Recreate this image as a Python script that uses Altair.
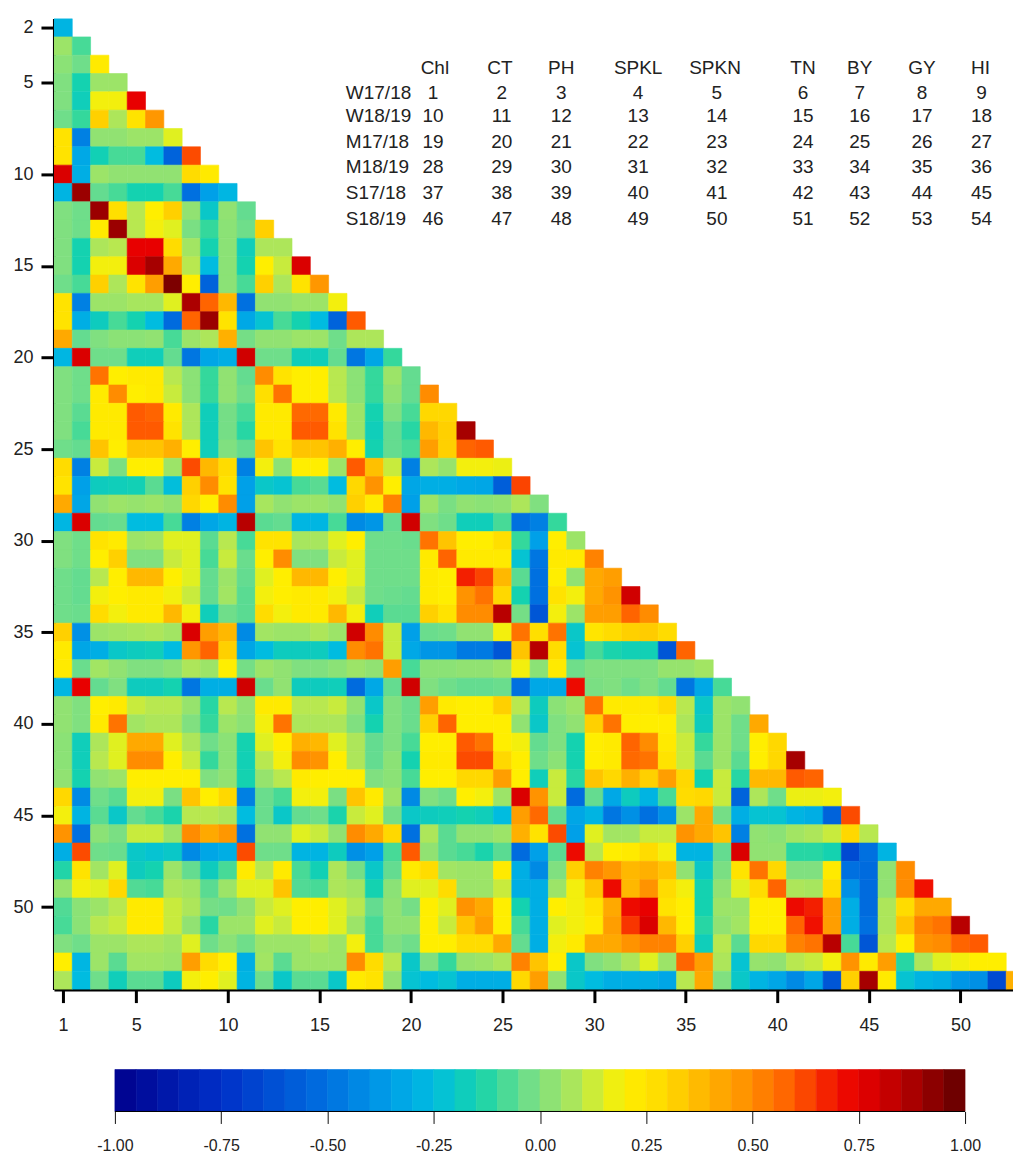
import altair as alt
import pandas as pd

r02 = [-28]
r03 = [5, -8]
r04 = [2, -3, 22]
r05 = [0, -15, 5, 5]
r06 = [0, -17, 18, 18, 75]
r07 = [-3, -10, 32, 8, 25, 47]
r08 = [25, -45, 3, 3, 5, 5, 15]
r09 = [25, -32, -16, -8, -8, -25, -55, 62]
r10 = [78, -30, 5, 3, 3, 3, 3, 28, 22]
r11 = [-28, 90, -5, -8, -15, -15, -8, -50, -35, -27]
r12 = [0, -3, 90, 27, 10, 20, 32, 3, -20, 3, -5]
r13 = [0, -3, 22, 90, 10, 18, 15, -1, -10, 2, -3, 32]
r14 = [0, -15, 8, 10, 75, 75, 28, 6, -15, 2, -17, 8, 8]
r15 = [0, -15, 18, 18, 78, 88, 42, 10, -25, 2, -15, 20, 12, 78]
r16 = [-3, -8, 32, 8, 25, 45, 95, 20, -55, 2, -8, 32, 8, 25, 47]
r17 = [25, -45, 5, 5, 7, 7, 15, 87, 58, 38, -50, 3, 3, 5, 5, 18]
r18 = [25, -30, -18, -8, -15, -25, -52, 58, 90, 25, -32, -22, -8, -15, -25, -55, 60]
r19 = [42, -5, 0, 2, 2, 3, -8, 5, 8, 40, -2, 3, 3, 5, 5, -3, 8, 8]
r20 = [-27, 78, -3, -3, -17, -17, -5, -48, -33, -30, 80, -3, -3, -17, -17, -5, -48, -33, -10]
r21 = [0, -3, 55, 20, 22, 22, 10, 2, -10, 3, -5, 50, 25, 20, 20, 10, 2, -10, 5, -5]
r22 = [0, -3, 22, 50, 20, 22, 12, 2, -10, 3, -3, 27, 55, 20, 20, 10, 2, -10, 3, -5, 50]
r23 = [0, -6, 22, 22, 60, 58, 22, 8, -17, -2, -8, 22, 22, 57, 57, 22, 5, -15, 0, -8, 30, 30]
r24 = [0, -8, 22, 22, 60, 60, 25, 8, -17, -2, -12, 22, 22, 60, 60, 25, 5, -17, -5, -12, 38, 32, 88]
r25 = [-3, -5, 35, 20, 35, 35, 40, 20, -17, 0, -5, 35, 25, 35, 35, 40, 20, -15, -5, -8, 45, 32, 58, 60]
r26 = [28, -45, 12, -1, 20, 20, 5, 62, 38, 28, -45, 18, 2, 20, 20, 5, 60, 36, 12, -45, 8, 4, 18, 18, 17]
r27 = [25, -35, -18, -17, -16, -6, -24, 32, 50, 25, -35, -20, -22, -8, -6, -25, 30, 48, 20, -33, -30, -30, -32, -33, -57, 63]
r28 = [42, -33, 3, 5, 4, 5, 3, 30, 20, 50, -35, 7, 3, 5, 5, 3, 32, 22, 52, -35, 5, -1, 3, 2, 3, 8, 0]
r29 = [-27, 78, -5, -4, -25, -25, -8, -45, -33, -28, 85, -6, -5, -27, -27, -8, -42, -38, -5, 80, 0, -3, -17, -17, -8, -50, -45, -10]
r30 = [0, -3, 25, 22, 5, 6, 15, 15, -6, 10, -8, 25, 25, 7, 7, 15, 20, -3, -3, -4, 55, 35, 20, 20, 27, -10, -35, 20, 5]
r31 = [0, -3, 20, 32, 0, 0, 12, 15, -8, 12, -4, 20, 50, 0, 0, 12, 15, -3, -3, -3, 22, 58, 22, 22, 22, -22, -48, 22, 22, 52]
r32 = [-3, -5, 10, 20, 38, 38, 20, 15, -5, 5, -5, 15, 20, 38, 38, 20, 15, -3, -3, -3, 22, 20, 68, 63, 38, -6, -50, 20, 3, 42, 45]
r33 = [-3, -5, 18, 20, 22, 22, 18, 12, -5, 6, -6, 18, 20, 22, 22, 18, 12, -3, -4, -5, 22, 20, 48, 55, 30, -15, -50, 25, 18, 42, 48, 80]
r34 = [-3, -4, 28, 18, 22, 22, 38, 18, -17, -3, -6, 28, 18, 22, 22, 38, 18, -17, -6, -6, 32, 25, 50, 50, 85, -2, -60, 18, 5, 45, 45, 58, 50]
r35 = [32, -40, 5, 6, 7, 8, 6, 78, 45, 38, -42, 6, 5, 5, 8, 5, 80, 50, 12, -35, -4, -3, 3, 3, 18, 55, 27, 55, -20, 24, 28, 32, 33, 28]
r36 = [22, -33, -30, -20, -18, -17, -25, 47, 58, 32, -33, -25, -18, -18, -18, -25, 50, 55, 12, -32, -38, -38, -47, -47, -60, 35, 85, 28, -22, -8, -14, -16, -16, -60, 58]
r37 = [22, -4, 6, 3, 0, 0, 2, 8, 5, 20, -2, 5, 3, 0, 0, 2, 5, 3, 45, -8, 2, 2, 3, 3, 5, 18, 2, 22, -3, 0, 0, 0, 0, 4, 4, 6]
r38 = [-27, 75, -5, 0, -18, -18, -15, -48, -30, -30, 80, -4, 3, -18, -18, -17, -52, -32, -5, 80, 0, -3, -5, -5, -4, -50, -32, -32, 72, -1, 0, -3, 0, -5, -48, -32, -8]
r39 = [3, 0, 20, 22, 12, 10, 10, 4, -12, 10, 3, 22, 22, 10, 10, 12, 3, -20, 0, -4, 45, 22, 20, 20, 32, 10, -18, 2, 5, 55, 22, 22, 22, 28, 10, -20, 5, 3]
r40 = [3, 0, 22, 55, 6, 8, 8, 0, -10, 5, 2, 18, 55, 8, 8, 8, 0, -15, 0, -4, 32, 58, 20, 20, 20, 3, -20, 0, 3, 32, 55, 20, 20, 20, 8, -18, 5, -3, 42]
r41 = [2, -17, 8, 15, 42, 42, 15, 8, -3, 2, -15, 15, 20, 40, 38, 15, 8, -5, 0, -8, 20, 20, 60, 55, 20, 18, -5, 0, -15, 20, 22, 58, 50, 22, 12, -10, 5, -3, 20, 30]
r42 = [2, -17, 10, 15, 50, 50, 20, 12, -10, 2, -16, 10, 18, 50, 48, 20, 8, -5, 2, -15, 22, 22, 62, 62, 30, 20, -3, 2, -15, 20, 22, 57, 55, 25, 12, -6, 5, -6, 20, 30, 88]
r43 = [3, -15, 3, 5, 20, 20, 20, 20, 0, 3, -15, 4, 10, 22, 20, 20, 20, 0, 2, -8, 20, 20, 30, 30, 45, 20, -17, 12, -12, 35, 30, 40, 32, 45, 30, -15, 12, -12, 38, 38, 60, 58]
r44 = [30, -42, -3, -6, 18, 18, -1, 35, 20, 30, -45, -4, -8, 18, 18, -1, 35, 22, 5, -42, 0, -3, 20, 18, 5, 78, 48, 12, -52, -5, -32, -18, -28, -8, 28, 30, 12, -55, 8, -3, 17, 17, 18]
r45 = [18, -28, -6, -20, -5, -8, -14, 10, 10, 8, -25, -4, -20, -5, -3, -14, 12, 15, -2, -20, -18, -17, -15, -17, -25, 45, 57, -5, -33, -28, -48, -40, -50, -40, 5, 42, -2, -30, -22, -22, -28, -30, -55, 62]
r46 = [48, -50, 2, -1, 12, 12, 5, 50, 42, 47, -50, 3, 3, 15, 12, 3, 50, 42, 30, -50, 8, -6, 3, 3, 5, 40, 25, 62, -35, 15, 6, 6, 12, 12, 48, 42, 35, -45, 3, 2, 6, 8, 12, 30, 10]
r47 = [-30, 62, -3, -4, -20, -22, -20, -42, -33, -30, 62, -3, -3, -28, -28, -18, -40, -35, -8, 60, 3, -6, -8, -14, -6, -52, -35, -6, 72, 10, 20, 22, 28, 18, -28, -28, -5, 78, 3, 3, -12, -12, -15, -65, -50, -28]
r48 = [-13, 25, 6, 15, -18, -15, 5, -5, -18, -8, 22, 10, 22, -8, -16, 8, -2, -20, -5, 22, 28, 6, 5, 5, 22, -30, -42, 0, 32, 52, 47, 38, 40, 35, 3, -20, -1, 25, 55, 30, 0, 0, 22, -50, -52, 3, 50]
r49 = [4, 18, 15, 30, -7, -8, 8, 6, -6, 5, 15, 15, 35, -7, -8, 8, 6, -15, 2, 15, 15, 28, 5, 5, 12, -30, -30, 5, 18, 35, 72, 38, 48, 28, 18, -15, 3, 15, 28, 58, 8, 7, 28, -40, -52, 3, 50, 70]
r50 = [-7, 2, 5, 10, 22, 22, 12, 8, -2, -3, 3, 12, 15, 20, 20, 15, 10, -5, 3, -2, 20, 15, 48, 42, 20, -15, -30, 20, 18, 25, 42, 72, 75, 25, 20, -15, 5, 5, 20, 20, 72, 68, 45, -30, -52, 8, 28, 42, 42]
r51 = [-8, 2, 10, 12, 22, 22, 12, 3, -12, 5, 5, 15, 12, 20, 20, 15, 5, -8, 3, 3, 20, 12, 35, 45, 20, -8, -30, 15, 18, 22, 45, 65, 78, 38, 20, -12, 3, 6, 20, 20, 58, 70, 45, -30, -50, 8, 35, 52, 55, 85]
r52 = [0, -3, 5, 5, 8, 8, 6, 15, -3, 2, -3, 5, 5, 5, 8, 5, 18, -8, 0, -3, 20, 20, 28, 28, 42, -5, -30, 18, 22, 42, 42, 48, 52, 52, 32, -17, 10, -6, 30, 30, 52, 55, 85, -8, -60, 10, 20, 48, 50, 58, 60]
r53 = [20, -27, 5, -6, 6, 6, 5, 45, 28, 20, -30, 6, -6, 5, 5, 5, 50, 28, 10, -20, 0, -10, 4, 5, 8, 52, 35, 20, -20, 0, 3, 8, 15, 5, 58, 45, 8, -22, 4, 3, 10, 12, 18, 48, 22, 45, -12, 8, 15, 18, 20, 20]
r54 = [8, -25, -3, -17, -6, -6, -18, 18, 20, 15, -28, -3, -20, -6, -6, -20, 22, 25, 3, -22, -25, -22, -30, -30, -30, 30, 45, 3, -20, -25, -30, -30, -30, -33, 10, 42, 0, -20, -28, -33, -42, -33, -60, 32, 88, 22, -22, -28, -30, -38, -40, -65, 40]

rows = [r02, r03, r04, r05, r06, r07, r08, r09, r10, r11, r12, r13, r14, r15, r16, r17, r18,
        r19, r20, r21, r22, r23, r24, r25, r26, r27, r28, r29, r30, r31, r32, r33, r34, r35,
        r36, r37, r38, r39, r40, r41, r42, r43, r44, r45, r46, r47, r48, r49, r50, r51, r52,
        r53, r54]

x_ticks = [1, 5, 10, 15, 20, 25, 30, 35, 40, 45, 50]
y_ticks = [2, 5, 10, 15, 20, 25, 30, 35, 40, 45, 50]
bar_ticks = [-1.0, -0.75, -0.5, -0.25, 0.0, 0.25, 0.5, 0.75, 1.0]
bar_steps = [-100, -95, -90, -85, -80, -75, -70, -65, -60, -55, -50, -45, -40, -35, -30, -25, -20, -15, -10, -5,
             0, 5, 10, 15, 20, 25, 30, 35, 40, 45, 50, 55, 60, 65, 70, 75, 80, 85, 90, 95]

traits = ["Chl", "CT", "PH", "SPKL", "SPKN", "TN", "BY", "GY", "HI"]
envs = ["W17/18", "W18/19", "M17/18", "M18/19", "S17/18", "S18/19"]

color_stops = [-1.0, -0.75, -0.5, -0.35, -0.25, -0.15, -0.1, -0.05, 0.0, 0.1, 0.15, 0.2, 0.3, 0.4, 0.5, 0.6, 0.7, 0.75, 0.85, 1.0]
color_range = ["#00008c", "#0030c8", "#0070e0", "#00a0e8", "#00bce0", "#14d2b0", "#34d89c", "#64dc90", "#80e080",
               "#b8e850", "#e0f020", "#ffee00", "#ffd800", "#ffb000", "#ff8c00", "#ff5a00", "#f01000", "#e80000",
               "#b80000", "#600000"]
color_scale = alt.Scale(domain=color_stops, range=color_range, interpolate="rgb")

FONT = "Liberation Sans"
INK = "#222222"

cells = []
for r, row in enumerate(rows):
    yy = r + 2
    for c, v in enumerate(row):
        xx = c + 1
        cells.append(dict(x0=xx - 0.5, x1=xx + 0.5, y0=yy - 0.5, y1=yy + 0.5, v=v / 100))
cells = pd.DataFrame(cells)

x_scale = alt.Scale(domain=[0.5, 52.87], nice=False, zero=False)
y_scale = alt.Scale(domain=[1.5, 54.5], reverse=True, nice=False, zero=False)

heat = alt.Chart(cells).mark_rect(clip=True, strokeWidth=0.6).encode(
    x=alt.X("x0:Q", scale=x_scale, title=None,
            axis=alt.Axis(values=x_ticks, grid=False, tickSize=13, tickWidth=3, tickColor="black",
                          domainColor="black", domainWidth=3, labelFont=FONT, labelFontSize=18,
                          labelColor=INK, labelPadding=14, labelFlush=False, format="d")),
    x2="x1:Q",
    y=alt.Y("y0:Q", scale=y_scale, title=None,
            axis=alt.Axis(values=y_ticks, grid=False, tickSize=13, tickWidth=3, tickColor="black",
                          domainColor="black", domainWidth=3, labelFont=FONT, labelFontSize=18,
                          labelColor=INK, labelPadding=8, minExtent=41, maxExtent=41, format="d")),
    y2="y1:Q",
    color=alt.Color("v:Q", scale=color_scale, legend=None),
    stroke=alt.Color("v:Q", scale=color_scale, legend=None),
)

header_x = [21.3, 24.85, 28.2, 32.4, 36.6, 41.4, 44.5, 47.9, 51.1]
number_x = [21.2, 24.95, 28.2, 32.4, 36.7, 41.4, 44.5, 47.9, 51.15]
row_y = [5.55, 6.8, 8.22, 9.58, 11.0, 12.42]
header_y = 4.18
label_x = 16.44

texts = []
for name, xp in zip(traits, header_x):
    texts.append(dict(t=name, x=xp, y=header_y, left=False))
n = 1
for env, yp in zip(envs, row_y):
    texts.append(dict(t=env, x=label_x, y=yp, left=True))
    for xp in number_x:
        texts.append(dict(t=str(n), x=xp, y=yp, left=False))
        n += 1
texts = pd.DataFrame(texts)

center_text = alt.Chart(texts[~texts.left]).mark_text(font=FONT, fontSize=19, color=INK, align="center", baseline="middle").encode(
    x=alt.X("x:Q", scale=x_scale), y=alt.Y("y:Q", scale=y_scale), text="t:N")
left_text = alt.Chart(texts[texts.left]).mark_text(font=FONT, fontSize=19, color=INK, align="left", baseline="middle").encode(
    x=alt.X("x:Q", scale=x_scale), y=alt.Y("y:Q", scale=y_scale), text="t:N")

top = alt.layer(heat, center_text, left_text).properties(width=960, height=972)

steps = pd.DataFrame(dict(lo=[s / 100 for s in bar_steps], hi=[(s + 5) / 100 for s in bar_steps],
                          v=[(s + 2.5) / 100 for s in bar_steps]))
bar_x = alt.Scale(domain=[-1.1434, 1.0], nice=False, zero=False)
bar = alt.Chart(steps).mark_rect(strokeWidth=0.6).encode(
    x=alt.X("lo:Q", scale=bar_x, title=None,
            axis=alt.Axis(values=bar_ticks, grid=False, domain=False, tickSize=12, tickWidth=1, tickColor="#111111",
                          labelFont=FONT, labelFontSize=16, labelColor=INK, labelPadding=14,
                          labelFlush=False, labelOverlap=False,
                          labelExpr="replace(format(datum.value, '.2f'), '\u2212', '-')")),
    x2="hi:Q",
    color=alt.Color("v:Q", scale=color_scale, legend=None),
    stroke=alt.Color("v:Q", scale=color_scale, legend=None),
)
base = alt.Chart(pd.DataFrame(dict(a=[-1.0], b=[1.0]))).mark_rule(color="black", strokeWidth=1).encode(
    x=alt.X("a:Q", scale=bar_x), x2="b:Q", y=alt.value(42))
bottom = alt.layer(bar, base).properties(width=912, height=42)

chart = alt.vconcat(top, bottom, spacing=34).properties(
    padding={"left": 4, "top": 10, "right": 0, "bottom": 0}
).configure_view(stroke=None)

chart.save("out.html", embed_options={"renderer": "svg", "actions": False})
